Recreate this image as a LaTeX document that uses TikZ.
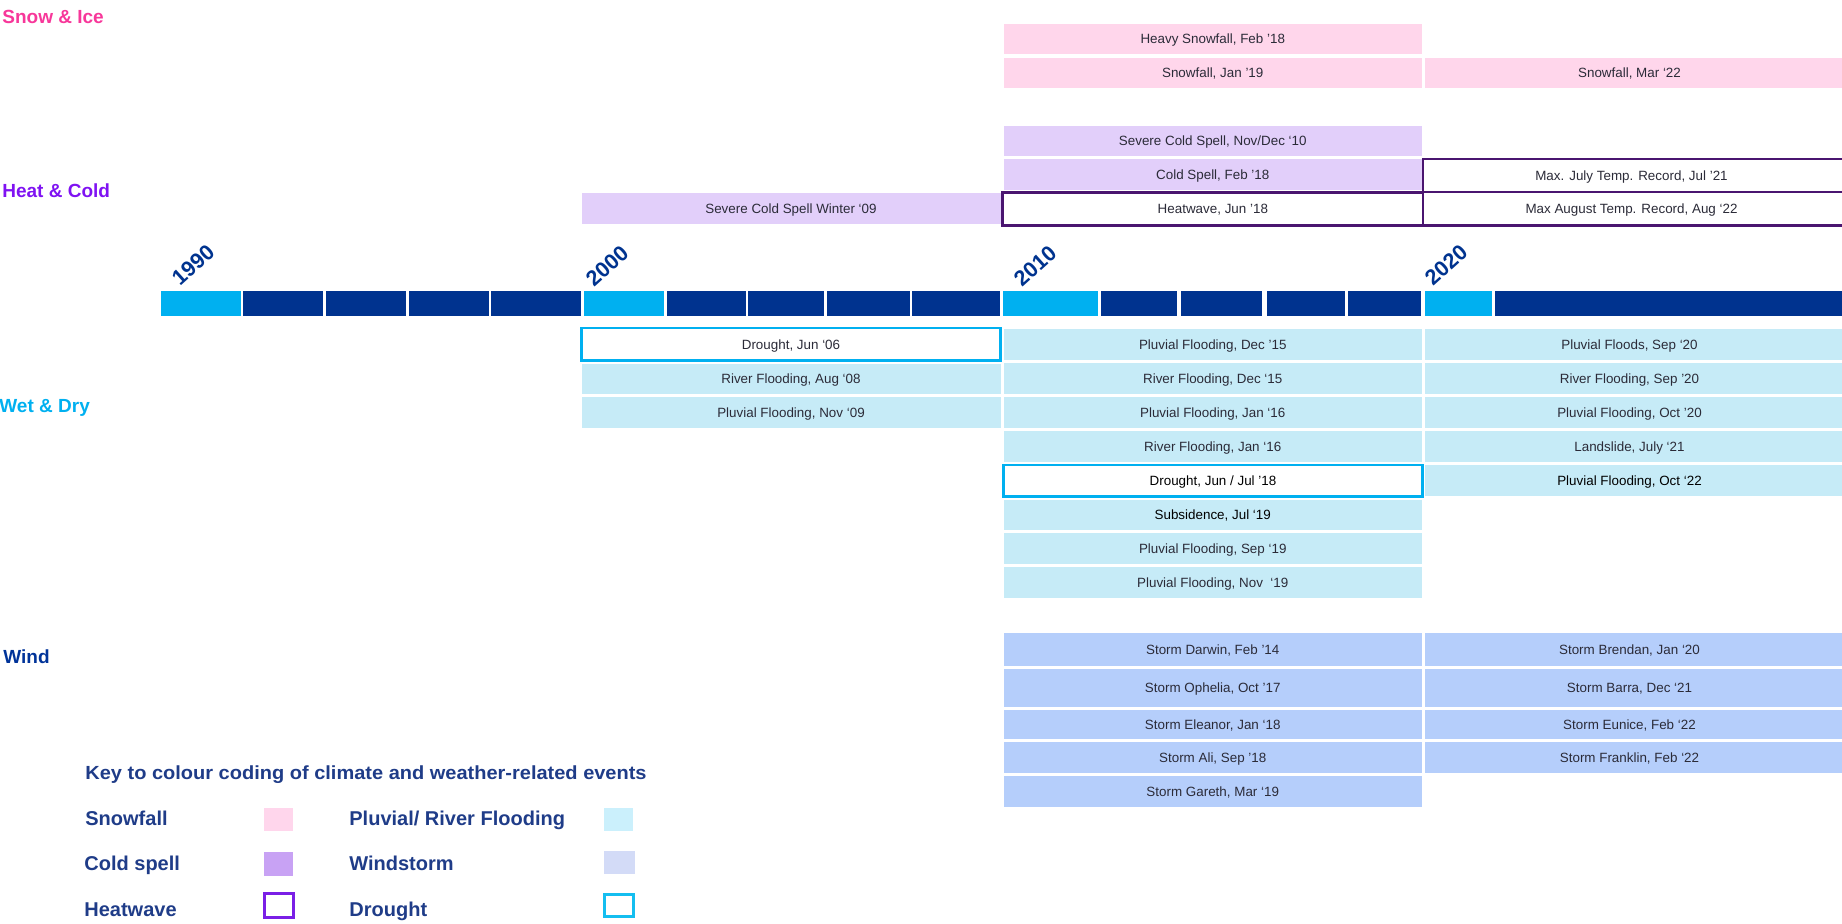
\documentclass[tikz,border=0pt]{standalone}
\usepackage{fontspec}
\setmainfont{Liberation Sans}
\definecolor{snowc}{HTML}{FFD6EB}
\definecolor{coldc}{HTML}{E2CFFA}
\definecolor{floodc}{HTML}{C6EBF7}
\definecolor{windc}{HTML}{B5CEFB}
\definecolor{heatline}{HTML}{4A1570}
\definecolor{droughtline}{HTML}{00B0F0}
\definecolor{tldark}{HTML}{00338F}
\definecolor{tllight}{HTML}{00B0F0}
\definecolor{evtext}{HTML}{2B2B38}
\definecolor{hsnow}{HTML}{F7379A}
\definecolor{hheat}{HTML}{7F12F2}
\definecolor{hwet}{HTML}{00B0F0}
\definecolor{hwind}{HTML}{003399}
\definecolor{legc}{HTML}{1F3C88}
\definecolor{legsnow}{HTML}{FFD6EC}
\definecolor{legflood}{HTML}{CBF0FC}
\definecolor{legcold}{HTML}{C8A2F4}
\definecolor{legwind}{HTML}{D3DBF7}
\definecolor{legheat}{HTML}{7A1FE6}
\definecolor{legdrought}{HTML}{14BEF0}
\newcommand\ev[7]{%
  \pgfmathsetmacro\evw{(#4-#2)*0.5}%
  \pgfmathsetmacro\evh{(#5-#3)*0.5}%
  \node[evbase,#6,minimum width=\evw pt,minimum height=\evh pt] (#1) at ({(#2+#4)/2},{(#3+#5)/2}) {#7};}
\begin{document}
\begin{tikzpicture}[x=0.5pt,y=-0.5pt,
  evbase/.style={rectangle,inner sep=0pt,outer sep=0pt,text height=4.9pt,text depth=0.1pt,font=\fontsize{6.7}{8}\selectfont,text=evtext},
  snowbox/.style={fill=snowc},
  coldbox/.style={fill=coldc},
  floodbox/.style={fill=floodc},
  windbox/.style={fill=windc},
  heatbox/.style={fill=white,draw=heatline,line width=1.25pt},
  droughtbox/.style={fill=white,draw=droughtline,line width=1.3pt},
  segdark/.style={fill=tldark},
  seglight/.style={fill=tllight},
  heading/.style={anchor=base west,inner sep=0pt,font=\bfseries\fontsize{9.5}{11}\selectfont},
  yearlab/.style={anchor=south west,inner sep=0pt,rotate=42,text=tldark,font=\bfseries\fontsize{10.8}{12}\selectfont},
  leglab/.style={anchor=base west,inner sep=0pt,text=legc,font=\bfseries\fontsize{10}{12}\selectfont},
  legsq/.style={rectangle,inner sep=0pt,outer sep=0pt}
]
\useasboundingbox (0,0) rectangle (1842,923);

% headings
\node[heading,text=hsnow] (hSnow) at (2,23) {Snow \& Ice};
\node[heading,text=hheat] (hHeat) at (2,197.5) {Heat \& Cold};
\node[heading,text=hwet] (hWet) at (-1,412.5) {Wet \& Dry};
\node[heading,text=hwind] (hWind) at (3,663) {Wind};

% timeline
\ev{s1}{161}{291}{240.5}{316}{seglight}{}
\ev{s2}{243}{291}{323}{316}{segdark}{}
\ev{s3}{326}{291}{406}{316}{segdark}{}
\ev{s4}{408.5}{291}{488.5}{316}{segdark}{}
\ev{s5}{491}{291}{581}{316}{segdark}{}
\ev{s6}{583.7}{291}{664}{316}{seglight}{}
\ev{s7}{666.5}{291}{745.5}{316}{segdark}{}
\ev{s8}{748}{291}{823.5}{316}{segdark}{}
\ev{s9}{826.5}{291}{909.5}{316}{segdark}{}
\ev{s10}{912}{291}{1000}{316}{segdark}{}
\ev{s11}{1002.5}{291}{1097.5}{316}{seglight}{}
\ev{s12}{1100.5}{291}{1176.5}{316}{segdark}{}
\ev{s13}{1180.5}{291}{1262}{316}{segdark}{}
\ev{s14}{1266.5}{291}{1344.5}{316}{segdark}{}
\ev{s15}{1347.5}{291}{1421}{316}{segdark}{}
\ev{s16}{1424.7}{291}{1491.5}{316}{seglight}{}
\ev{s17}{1494.5}{291}{1850}{316}{segdark}{}

% year labels
\node[yearlab] (y1990) at (181,287.5) {1990};
\node[yearlab] (y2000) at (595,288) {2000};
\node[yearlab] (y2010) at (1023,288) {2010};
\node[yearlab] (y2020) at (1434,287.5) {2020};

% snow
\ev{snow1}{1003.5}{24}{1422}{54.3}{snowbox}{Heavy Snowfall, Feb ’18}
\ev{snow2}{1003.5}{57.7}{1422}{88.3}{snowbox}{Snowfall, Jan ’19}
\ev{snow3}{1425}{57.7}{1850}{88.3}{snowbox}{\hspace*{-8pt}Snowfall, Mar ‘22}

% cold
\ev{cold1}{1003.5}{125.7}{1422}{156}{coldbox}{Severe Cold Spell, Nov/Dec ‘10}
\ev{cold2}{1003.5}{159.3}{1422}{190}{coldbox}{Cold Spell, Feb ’18}
\ev{cold3}{581.5}{193.3}{1000.5}{224}{coldbox}{Severe Cold Spell Winter ‘09}

% heat (outlined)
\ev{heat1}{1002.7}{192.3}{1423}{225.4}{heatbox}{Heatwave, Jun ’18}
\ev{heat2}{1423}{159}{1860}{192}{heatbox}{\hspace*{-10pt}Max. July Temp. Record, Jul ’21}
\ev{heat3}{1423}{192}{1860}{225.4}{heatbox}{\hspace*{-10pt}Max August Temp. Record, Aug ‘22}

% wet & dry, column A
\ev{drA1}{581.3}{328}{1000.7}{360.7}{droughtbox}{Drought, Jun ‘06}
\ev{flA2}{581.5}{364.3}{1000.5}{394}{floodbox}{River Flooding, Aug ‘08}
\ev{flA3}{581.5}{397.3}{1000.5}{428}{floodbox}{Pluvial Flooding, Nov ‘09}

% wet & dry, column B
\ev{flB1}{1003.5}{329.3}{1422}{360}{floodbox}{Pluvial Flooding, Dec ’15}
\ev{flB2}{1003.5}{363.3}{1422}{394}{floodbox}{River Flooding, Dec ‘15}
\ev{flB3}{1003.5}{397.3}{1422}{428}{floodbox}{Pluvial Flooding, Jan ‘16}
\ev{flB4}{1003.5}{431.3}{1422}{461.7}{floodbox}{River Flooding, Jan ‘16}
\ev{flB6}{1003.5}{500}{1422}{530}{floodbox,text=black}{Subsidence, Jul ‘19}
\ev{flB7}{1003.5}{533.3}{1422}{564}{floodbox}{Pluvial Flooding, Sep ‘19}
\ev{flB8}{1003.5}{567.3}{1422}{597.7}{floodbox}{Pluvial Flooding, Nov\ \ ‘19}

% wet & dry, column C
\ev{flC1}{1425}{329.3}{1850}{360}{floodbox}{\hspace*{-8pt}Pluvial Floods, Sep ‘20}
\ev{flC2}{1425}{363.3}{1850}{394}{floodbox}{\hspace*{-8pt}River Flooding, Sep ’20}
\ev{flC3}{1425}{397.3}{1850}{428}{floodbox}{\hspace*{-8pt}Pluvial Flooding, Oct ’20}
\ev{flC4}{1425}{431.3}{1850}{461.7}{floodbox}{\hspace*{-8pt}Landslide, July ‘21}
\ev{flC5}{1425}{465}{1850}{495.7}{floodbox,text=black}{\hspace*{-8pt}Pluvial Flooding, Oct ‘22}
\ev{drB5}{1003.3}{465}{1422.7}{496.4}{droughtbox,text=black}{Drought, Jun / Jul ’18}

% wind
\ev{wB1}{1003.5}{633.3}{1422}{665.7}{windbox}{Storm Darwin, Feb ’14}
\ev{wB2}{1003.5}{668.7}{1422}{707.3}{windbox}{Storm Ophelia, Oct ’17}
\ev{wB3}{1003.5}{710.3}{1422}{738.7}{windbox}{Storm Eleanor, Jan ‘18}
\ev{wB4}{1003.5}{742}{1422}{773}{windbox}{Storm Ali, Sep ’18}
\ev{wB5}{1003.5}{775.7}{1422}{806.7}{windbox}{Storm Gareth, Mar ‘19}
\ev{wC1}{1425}{633.3}{1850}{665.7}{windbox}{\hspace*{-8pt}Storm Brendan, Jan ‘20}
\ev{wC2}{1425}{668.7}{1850}{707.3}{windbox}{\hspace*{-8pt}Storm Barra, Dec ‘21}
\ev{wC3}{1425}{710.3}{1850}{738.7}{windbox}{\hspace*{-8pt}Storm Eunice, Feb ‘22}
\ev{wC4}{1425}{742}{1850}{773}{windbox}{\hspace*{-8pt}Storm Franklin, Feb ‘22}

% legend
\node[leglab] (legTitle) at (85,779.3) {\scalebox{1}[0.95]{Key to colour coding of climate and weather-related events}};
\node[leglab] (legSnowT) at (85,825) {Snowfall};
\node[leglab] (legColdT) at (84,870.7) {Cold spell};
\node[leglab] (legHeatT) at (84,916.7) {Heatwave};
\node[leglab] (legFloodT) at (349,825) {Pluvial/ River Flooding};
\node[leglab] (legWindT) at (349,870) {Windstorm};
\node[leglab] (legDroughtT) at (349,916.7) {Drought};
\ev{legSnowS}{264}{807.7}{293}{831}{legsq,fill=legsnow}{}
\ev{legColdS}{264}{852.3}{293}{875.7}{legsq,fill=legcold}{}
\ev{legHeatS}{264.5}{893.2}{293}{917.8}{legsq,draw=legheat,line width=1.5pt}{}
\ev{legFloodS}{604}{807.7}{633}{831}{legsq,fill=legflood}{}
\ev{legWindS}{604}{850.7}{635}{874}{legsq,fill=legwind}{}
\ev{legDroughtS}{604}{894.2}{633.5}{916.2}{legsq,draw=legdrought,line width=1.5pt}{}
\end{tikzpicture}
\end{document}
